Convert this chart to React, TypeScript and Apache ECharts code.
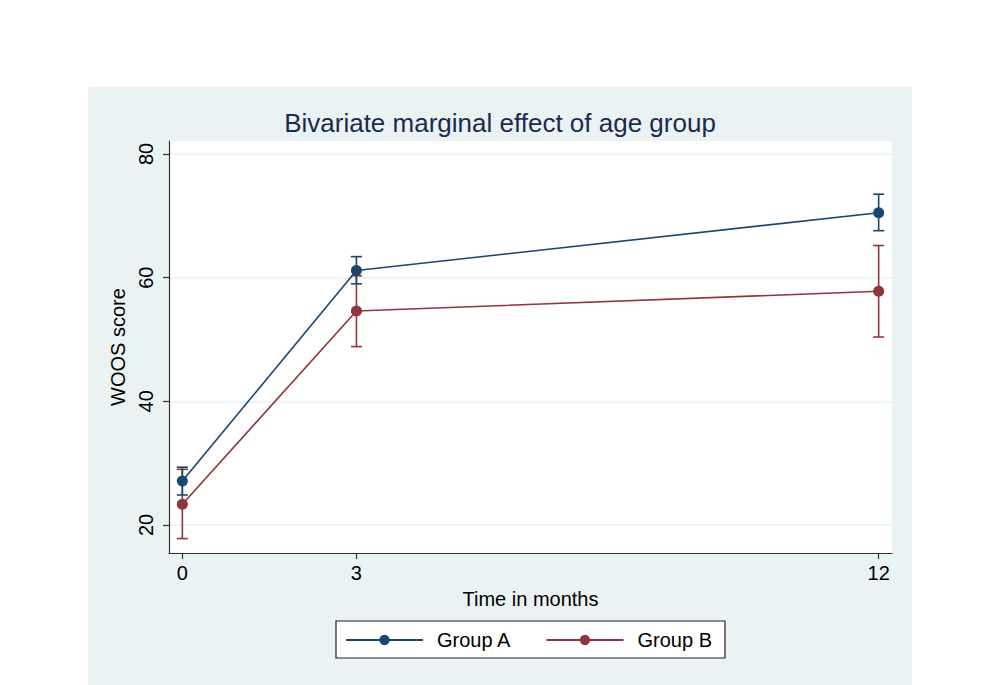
import React, { useEffect, useRef } from "react";
import * as echarts from "echarts";

const months = [0, 3, 12];
const groupA = [27.1, 61.15, 70.5];
const groupALow = [24.85, 59.0, 67.6];
const groupAHigh = [29.35, 63.4, 73.5];
const groupB = [23.35, 54.6, 57.8];
const groupBLow = [17.8, 48.85, 50.4];
const groupBHigh = [29.0, 60.3, 65.2];
const xTicks = [0, 3, 12];
const yTicks = [20, 40, 60, 80];

const BLUE = "#1a476f";
const RED = "#90353b";
const BG = "#eaf2f3";
const FONT = "Liberation Sans, Arial, Helvetica, sans-serif";

function errorBars(low: number[], high: number[]) {
  return months.map((m, i) => [m, low[i], high[i]]);
}

function makeRender(color: string) {
  return (params: any, api: any) => {
    const x = api.value(0);
    const lo = api.coord([x, api.value(1)]);
    const hi = api.coord([x, api.value(2)]);
    const hw = 5.5;
    const style = { stroke: color, lineWidth: 1.6 };
    return {
      type: "group",
      children: [
        { type: "line", shape: { x1: lo[0], y1: lo[1], x2: hi[0], y2: hi[1] }, style },
        { type: "line", shape: { x1: lo[0] - hw, y1: lo[1], x2: lo[0] + hw, y2: lo[1] }, style },
        { type: "line", shape: { x1: hi[0] - hw, y1: hi[1], x2: hi[0] + hw, y2: hi[1] }, style },
      ],
    };
  };
}

export default function App() {
  const ref = useRef<HTMLDivElement>(null);
  useEffect(() => {
    if (!ref.current) return;
    const chart = echarts.init(ref.current, undefined, { renderer: "svg" });
    chart.setOption({
      animation: false,
      backgroundColor: "#ffffff",
      graphic: [
        {
          type: "rect",
          z: -10,
          silent: true,
          shape: { x: 88, y: 87, width: 824, height: 598 },
          style: { fill: BG },
        },
      ],
      title: {
        text: "Bivariate marginal effect of age group",
        left: "center",
        top: 105,
        textStyle: { fontFamily: FONT, fontSize: 26, fontWeight: "normal", color: "#1c2a4e" },
      },
      legend: {
        data: ["Group A", "Group B"],
        left: 336,
        top: 621,
        orient: "horizontal",
        backgroundColor: "#ffffff",
        borderColor: "#222222",
        borderWidth: 1.2,
        padding: [9, 13, 8, 9],
        itemWidth: 77,
        itemHeight: 13,
        itemGap: 34,
        textStyle: { fontFamily: FONT, fontSize: 20, color: "#000", padding: [0, 0, 0, 9] },
      },
      grid: {
        left: 169,
        top: 141,
        width: 723,
        height: 412,
        show: true,
        backgroundColor: "#ffffff",
        borderWidth: 0,
      },
      xAxis: {
        type: "value",
        min: -0.23,
        max: 12.23,
        name: "Time in months",
        nameLocation: "middle",
        nameGap: 36,
        nameTextStyle: { fontFamily: FONT, fontSize: 20, color: "#000" },
        axisLine: { show: true, onZero: false, lineStyle: { color: "#333", width: 1.2 } },
        axisTick: { show: true, length: 6, customValues: xTicks, lineStyle: { color: "#333", width: 1.2 } },
        axisLabel: { customValues: xTicks, margin: 10, fontFamily: FONT, fontSize: 20, color: "#000" },
        splitLine: { show: false },
      },
      yAxis: {
        type: "value",
        min: 15.47,
        max: 82.1,
        name: "WOOS score",
        nameLocation: "middle",
        nameGap: 31,
        nameRotate: 90,
        nameTextStyle: { fontFamily: FONT, fontSize: 20, color: "#000" },
        axisLine: { show: true, onZero: false, lineStyle: { color: "#333", width: 1.2 } },
        axisTick: { show: true, length: 6, customValues: yTicks, lineStyle: { color: "#333", width: 1.2 } },
        axisLabel: { customValues: yTicks, rotate: 90, margin: 13, fontFamily: FONT, fontSize: 20, color: "#000" },
        splitLine: { show: true, lineStyle: { color: BG, width: 1.5 } },
      },
      series: [
        {
          type: "custom",
          name: "ciB",
          data: errorBars(groupBLow, groupBHigh),
          renderItem: makeRender(RED),
          silent: true,
          z: 2,
        },
        {
          type: "custom",
          name: "ciA",
          data: errorBars(groupALow, groupAHigh),
          renderItem: makeRender(BLUE),
          silent: true,
          z: 2,
        },
        {
          type: "line",
          name: "Group B",
          data: months.map((m, i) => [m, groupB[i]]),
          symbol: "circle",
          symbolSize: 11,
          lineStyle: { color: RED, width: 1.6 },
          itemStyle: { color: RED },
          z: 3,
        },
        {
          type: "line",
          name: "Group A",
          data: months.map((m, i) => [m, groupA[i]]),
          symbol: "circle",
          symbolSize: 11,
          lineStyle: { color: BLUE, width: 1.6 },
          itemStyle: { color: BLUE },
          z: 4,
        },
      ],
    });
    return () => chart.dispose();
  }, []);
  return (
    <div
      ref={ref}
      style={{ position: "fixed", left: 0, top: 0, width: 1000, height: 685 }}
    />
  );
}
